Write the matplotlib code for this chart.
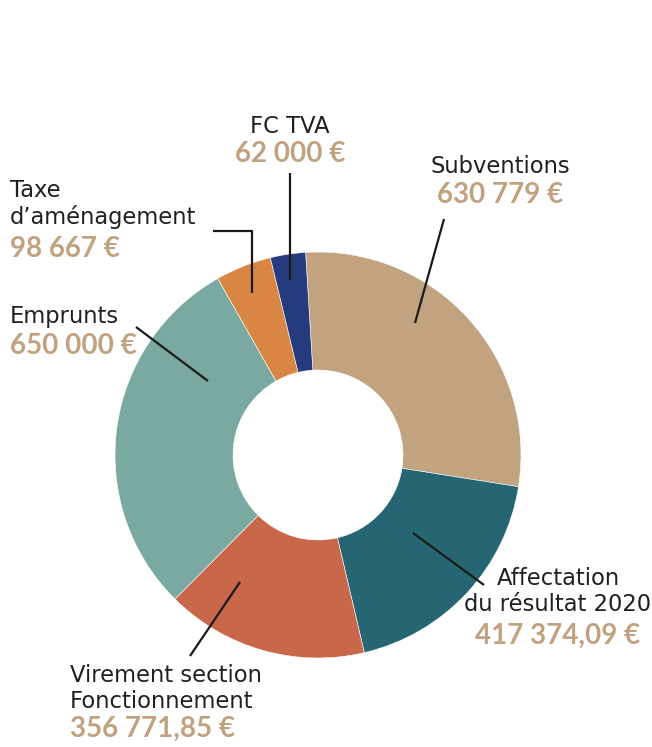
import matplotlib
matplotlib.use("Agg")
import matplotlib.pyplot as plt

# Data
categories = ["Subventions", "Affectation\ndu résultat 2020", "Virement section\nFonctionnement",
              "Emprunts", "Taxe\nd\u2019aménagement", "FC TVA"]
values = [630779, 417374.09, 356771.85, 650000, 98667, 62000]
value_labels = ["630 779 €", "417 374,09 €", "356 771,85 €", "650 000 €", "98 667 €", "62 000 €"]
colors = ["#c1a37f", "#256672", "#c8674a", "#7aa9a1", "#d98645", "#263b7d"]

W, H = 652, 747
fig = plt.figure(figsize=(W / 100, H / 100), dpi=100)
ax = fig.add_axes([0, 0, 1, 1])

def Y(y):
    return H - y

cx, cy, R = 318, Y(455), 203
ax.pie(values, colors=colors, startangle=93.5, counterclock=False, center=(cx, cy), radius=R,
       wedgeprops=dict(width=R - 85, edgecolor="white", linewidth=0.4), frame=True)
ax.set_xlim(0, W)
ax.set_ylim(0, H)
ax.set_aspect("equal")
ax.axis("off")

lab_font = dict(family="DejaVu Sans", fontsize=16.3, color="#231f20")
val_font = dict(family="Lato", fontweight="bold", fontsize=20, color="#c0a27f")

# label placements: (x, y_top, ha, value_y_top)
place = {
    0: (500, 155, "center", 182),
    1: (558, 567, "center", 623),
    2: (70, 664, "left", 716),
    3: (10, 305, "left", 333),
    4: (10, 179, "left", 236),
    5: (290, 115, "center", 141),
}
for i, (x, yt, ha, yv) in place.items():
    ax.text(x, Y(yt), categories[i], ha=ha, va="top", linespacing=1.15, **lab_font)
    ax.text(x, Y(yv), value_labels[i], ha=ha, va="top", **val_font)

lc = dict(color="#1a1a1a", lw=1.6, solid_capstyle="butt")
ax.plot([444, 415], [Y(219), Y(323)], **lc)
ax.plot([413, 484], [Y(533), Y(585)], **lc)
ax.plot([240, 190], [Y(582), Y(656)], **lc)
ax.plot([136, 208], [Y(327), Y(381)], **lc)
ax.plot([213, 252, 252], [Y(231), Y(231), Y(293)], **lc)
ax.plot([290, 290], [Y(173), Y(280)], **lc)

fig.savefig("out.png", dpi=100, facecolor="white")
